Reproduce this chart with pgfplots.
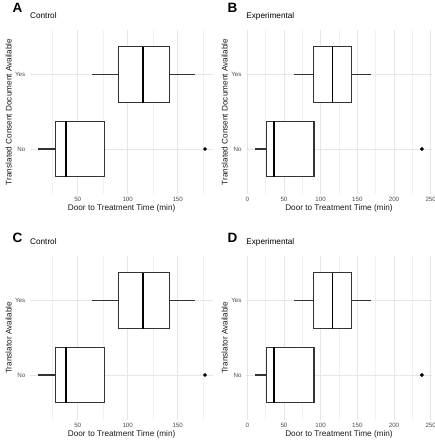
\documentclass[border=0pt]{standalone}
\usepackage{fontspec}
\setmainfont{Liberation Sans}
\usepackage{pgfplots}
\pgfplotsset{compat=1.18}
\usepgfplotslibrary{statistics}
\definecolor{gridmaj}{HTML}{E6E6E6}
\definecolor{gridmin}{HTML}{F1F1F1}
\definecolor{ticktxt}{HTML}{4D4D4D}
\definecolor{boxline}{HTML}{333333}
\pgfplotsset{
  panel/.style={
    scale only axis,
    height=163.5pt,
    ymin=0.4, ymax=2.6,
    ytick={1,2}, yticklabels={No,Yes},
    axis line style={draw=none},
    tick style={draw=none},
    major grid style={gridmaj, line width=0.6pt},
    minor grid style={gridmin, line width=0.4pt},
    xmajorgrids, ymajorgrids, xminorgrids,
    tick label style={font=\fontsize{6.2}{7.5}\selectfont, text=ticktxt},
    yticklabel style={xshift=-1.2pt},
    xticklabel style={yshift=-0.4pt},
    /pgf/number format/assume math mode=true,
    xlabel={Door to Treatment Time (min)},
    label style={font=\fontsize{8.2}{10}\selectfont, text=black!90},
    xlabel style={at={(axis description cs:0.5,-0.1064)}, anchor=base},
    title style={at={(axis description cs:0,1.0312)}, anchor=base west, inner sep=0pt, font=\fontsize{8.2}{10}\selectfont},
    boxplot/draw direction=x,
    boxplot/box extend=0.75,
    boxplot/whisker extend=0,
    boxplot/every box/.style={draw=boxline, line width=1.1pt, fill=white},
    boxplot/every whisker/.style={draw=boxline, line width=1.1pt},
    boxplot/every median/.style={draw=black, line width=1.7pt},
  },
  ctrl/.style={panel, width=183.3pt, xmin=2.3, xmax=185.6,
    xtick={50,100,150}, minor xtick={25,75,125,175},
    ylabel style={at={(axis description cs:-0.1167,0.5)}, anchor=center}},
  expt/.style={panel, width=185.6pt, xmin=-1.5, xmax=251.5,
    xtick={0,50,100,150,200,250}, minor xtick={25,75,125,175,225},
    ylabel style={at={(axis description cs:-0.1153,0.5)}, anchor=center}},
}
\begin{document}
\begin{tikzpicture}
\path[use as bounding box] (0pt,0pt) rectangle (435pt,440pt);

% Panel A
\begin{axis}[ctrl, at={(30.0pt,246.4pt)}, anchor=south west,
  title={Control}, ylabel={Translated Consent Document Available}]
\addplot[boxplot prepared={lower whisker=10.6, lower quartile=28, median=38.6, upper quartile=76.6, upper whisker=76.6, draw position=1}] coordinates {};
\addplot[boxplot prepared={lower whisker=64.6, lower quartile=90.6, median=115.6, upper quartile=142, upper whisker=167.3, draw position=2}] coordinates {};
\addplot[only marks, mark=*, mark size=1.7pt, black] coordinates {(177.3,1)};
\end{axis}

% Panel B
\begin{axis}[expt, at={(246.2pt,246.4pt)}, anchor=south west,
  title={Experimental}, ylabel={Translated Consent Document Available}]
\addplot[boxplot prepared={lower whisker=10.5, lower quartile=26.4, median=36.8, upper quartile=90.9, upper whisker=90.9, draw position=1}] coordinates {};
\addplot[boxplot prepared={lower whisker=64, lower quartile=90.5, median=116.3, upper quartile=142.6, upper whisker=168, draw position=2}] coordinates {};
\addplot[only marks, mark=*, mark size=1.7pt, black] coordinates {(238,1)};
\end{axis}

% Panel C
\begin{axis}[ctrl, at={(30.0pt,20.4pt)}, anchor=south west,
  title={Control}, ylabel={Translator Available}]
\addplot[boxplot prepared={lower whisker=10.6, lower quartile=28, median=38.6, upper quartile=76.6, upper whisker=76.6, draw position=1}] coordinates {};
\addplot[boxplot prepared={lower whisker=64.6, lower quartile=90.6, median=115.6, upper quartile=142, upper whisker=167.3, draw position=2}] coordinates {};
\addplot[only marks, mark=*, mark size=1.7pt, black] coordinates {(177.3,1)};
\end{axis}

% Panel D
\begin{axis}[expt, at={(246.2pt,20.4pt)}, anchor=south west,
  title={Experimental}, ylabel={Translator Available}]
\addplot[boxplot prepared={lower whisker=10.5, lower quartile=26.4, median=36.8, upper quartile=90.9, upper whisker=90.9, draw position=1}] coordinates {};
\addplot[boxplot prepared={lower whisker=64, lower quartile=90.5, median=116.3, upper quartile=142.6, upper whisker=168, draw position=2}] coordinates {};
\addplot[only marks, mark=*, mark size=1.7pt, black] coordinates {(238,1)};
\end{axis}

% Panel letters
\node[anchor=base west, inner sep=0pt, font=\fontsize{13.5}{15}\bfseries\selectfont] at (12.4pt,427.3pt) {A};
\node[anchor=base west, inner sep=0pt, font=\fontsize{13.5}{15}\bfseries\selectfont] at (227.4pt,427.3pt) {B};
\node[anchor=base west, inner sep=0pt, font=\fontsize{13.5}{15}\bfseries\selectfont] at (12.4pt,197.0pt) {C};
\node[anchor=base west, inner sep=0pt, font=\fontsize{13.5}{15}\bfseries\selectfont] at (227.4pt,197.0pt) {D};
\end{tikzpicture}
\end{document}
